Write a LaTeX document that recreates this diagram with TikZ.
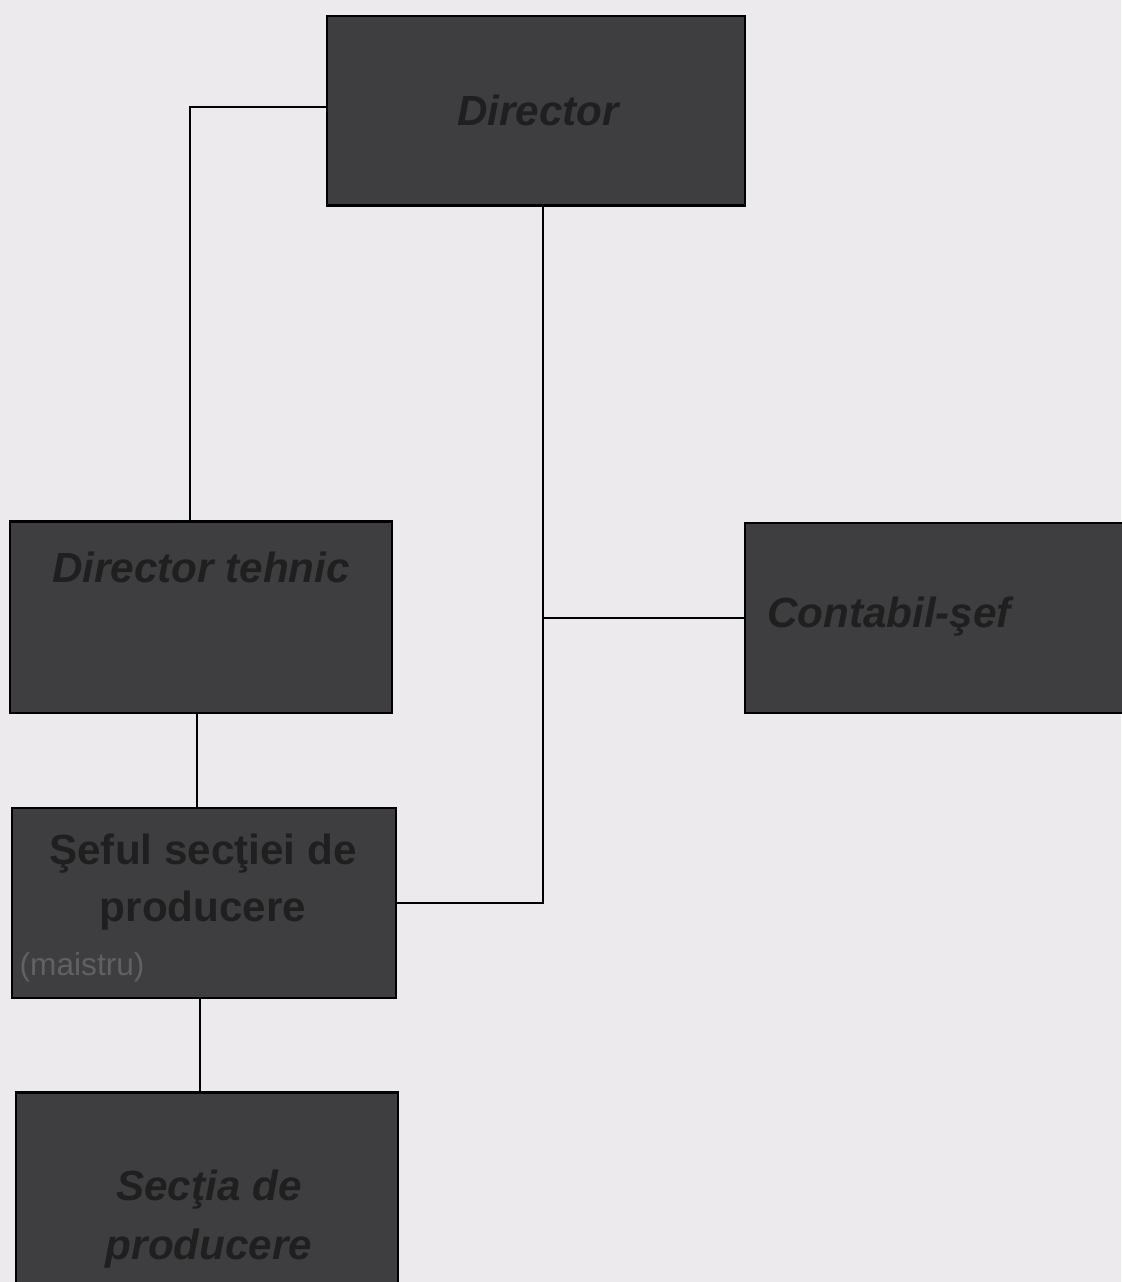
\documentclass[tikz,border=0pt]{standalone}
\usepackage{fontspec}
\setmainfont{Liberation Sans}
\usepackage{xcolor}
\usetikzlibrary{positioning,calc}

\definecolor{paper}{RGB}{237,234,238}
\definecolor{boxgray}{RGB}{62,62,64}

\begin{document}
\begin{tikzpicture}[x=0.01cm, y=-0.01cm,
  every node/.style={font=\fontsize{12}{16}\selectfont\bfseries, text=black!88},
  post/.style={draw=black, line width=0.6pt, fill=boxgray, inner sep=0pt},
  link/.style={draw=black, line width=0.6pt}]
\fill[paper] (0,0) rectangle (1121,1282);
\useasboundingbox (0,0) rectangle (1121,1282);

% boxes
\node[post, minimum width=4.17cm, minimum height=1.89cm] (dir)   at (536,111)  {};
\node[post, minimum width=3.82cm, minimum height=1.91cm] (dtech) at (201,617)  {};
\node[post, minimum width=3.79cm, minimum height=1.90cm] (cont)  at (935,618)  {};
\node[post, minimum width=3.83cm, minimum height=1.90cm] (sef)   at (204,903)  {};
\node[post, minimum width=3.82cm, minimum height=1.97cm] (sect)  at (207,1191) {};

% labels
\node (dirT)   at (538,110)  {\itshape Director};
\node (dtechT) at (201,567)  {\itshape Director tehnic};
\node (contT)  at (889,617)  {\itshape Contabil-şef};
\node[align=center] (sefT) at (203,882) {Şeful secţiei de\\producere};
\node[anchor=west, inner sep=0pt, font=\fontsize{9}{11}\selectfont, text=black!62] (sefM) at (19,967) {(maistru)};
\node[align=center, font=\fontsize{12}{17}\selectfont\bfseries\itshape] (sectT) at (209,1219) {Secţia de\\producere};

% connectors
\coordinate (trunk) at ([xshift=0.07cm]dir.south);
\draw[link] ([yshift=0.04cm]dir.west) -| ([xshift=-0.11cm]dtech.north);
\draw[link] (trunk) |- (sef.east);
\draw[link] (cont.west) -- (cont.west -| trunk);
\draw[link] ([xshift=-0.04cm]dtech.south) -- ([xshift=-0.04cm]dtech.south |- sef.north);
\draw[link] ([xshift=-0.04cm]sef.south) -- ([xshift=-0.04cm]sef.south |- sect.north);
\end{tikzpicture}
\end{document}
